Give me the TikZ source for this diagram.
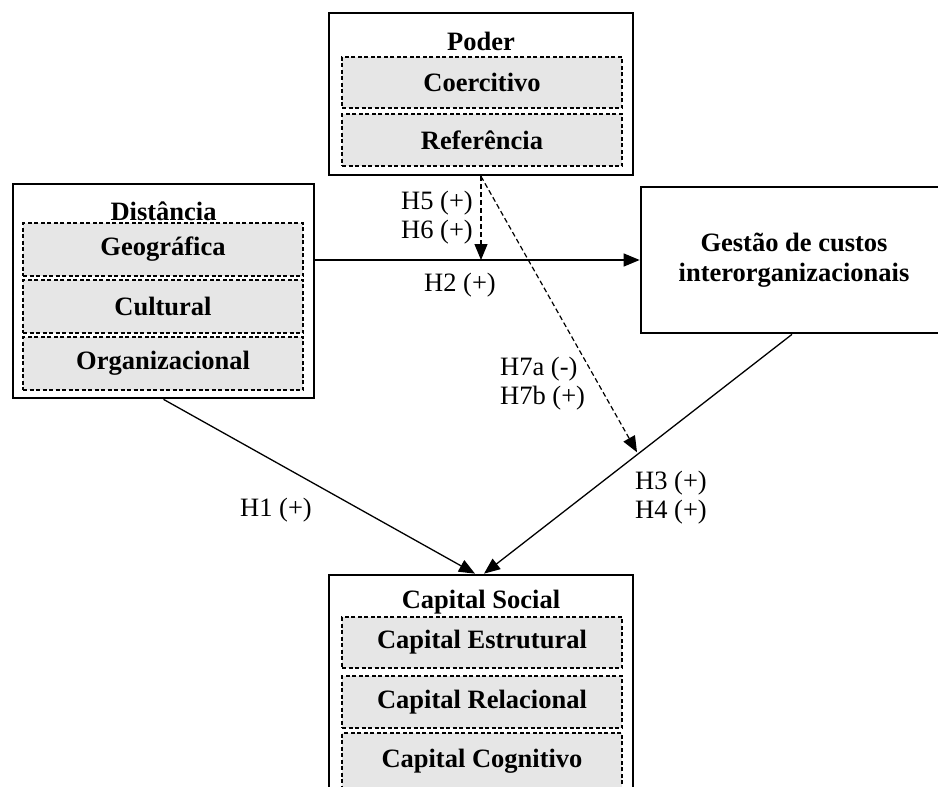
\documentclass[tikz,border=0pt]{standalone}
\usepackage{fontspec}
\setmainfont{Liberation Serif}
\usetikzlibrary{arrows.meta,calc}
\definecolor{boxgray}{RGB}{230,230,230}
\tikzset{
  outerbox/.style={draw=black, line width=2.7pt, fill=white, inner sep=0pt},
  innerbox/.style={draw=black, line width=1.1pt, dash pattern=on 4pt off 2.5pt, fill=boxgray,
     inner sep=0pt, minimum width=280pt, font=\fontsize{26.5}{29}\selectfont\bfseries},
  titletext/.style={inner sep=0pt, font=\fontsize{26.5}{29}\selectfont\bfseries},
  lbl/.style={inner sep=0pt, font=\fontsize{26.5}{29}\selectfont},
  conn/.style={line width=1.3pt, -{Triangle[length=16pt,width=13pt]}},
  dconn/.style={line width=1.2pt, dash pattern=on 5pt off 3pt, -{Triangle[length=16pt,width=13pt]}},
}
\begin{document}
\begin{tikzpicture}[x=1pt,y=-1pt]
\useasboundingbox (0,0) rectangle (938,787);
\clip (0,0) rectangle (938,787);

% Poder
\node[outerbox, minimum width=304pt, minimum height=162pt] (poder) at (481,94) {};
\node[innerbox, minimum height=51pt] (coerc) at (482,82.5) {Coercitivo};
\node[innerbox, minimum height=52pt] (refer) at (482,140) {Referência};
\node[titletext] (poderT) at (481,41) {Poder};

% Distancia
\node[outerbox, minimum width=301pt, minimum height=214pt] (dist) at (163.5,291) {};
\node[innerbox, minimum height=53pt] (geo) at (163,249.5) {Geográfica};
\node[innerbox, minimum height=53pt] (cult) at (163,306.5) {Cultural};
\node[innerbox, minimum height=53pt] (org) at (163,363.5) {Organizacional};
\node[titletext] (distT) at (163.5,211) {Distância};

% Gestao
\node[outerbox, minimum width=306pt, minimum height=146pt, align=center,
      font=\fontsize{26.5}{30}\selectfont\bfseries] (gest) at (794,260) {Gestão de custos\\interorganizacionais};

% Capital social
\node[outerbox, minimum width=304pt, minimum height=230pt] (cap) at (481,690) {};
\node[innerbox, minimum height=51pt] (estr) at (482,642.5) {Capital Estrutural};
\node[innerbox, minimum height=52pt] (rel) at (482,702) {Capital Relacional};
\node[innerbox, minimum height=57pt] (cogn) at (482,761.5) {Capital Cognitivo};
\node[titletext] (capT) at (481,602) {Capital Social};

% connectors
\coordinate (h3s) at ([xshift=-2pt]gest.south);
\coordinate (h3e) at ([xshift=3pt]cap.north);
\coordinate (h1e) at ([xshift=-6pt]cap.north);
\coordinate (h5e) at (poder.south |- gest.west);
\coordinate (h7e) at ($(h3s)!0.50!(h3e)$);

\draw[conn] (dist.east |- gest.west) -- (gest.west);
\draw[conn] (dist.south) -- (h1e);
\draw[conn] (h3s) -- (h3e);
\draw[dconn] (poder.south) -- (h5e);
\draw[dconn, shorten >=2pt] (poder.south) -- (h7e);

% labels
\node[lbl, align=center] (l56) at (437,217.5) {H5 (+)\\H6 (+)};
\node[lbl] (l2) at (460,285) {H2 (+)};
\node[lbl, align=left, anchor=west] (l7) at (500,384) {H7a (-)\\H7b (+)};
\node[lbl, align=left, anchor=west] (l34) at (635,497.5) {H3 (+)\\H4 (+)};
\node[lbl] (l1) at (276,510) {H1 (+)};
\end{tikzpicture}
\end{document}
